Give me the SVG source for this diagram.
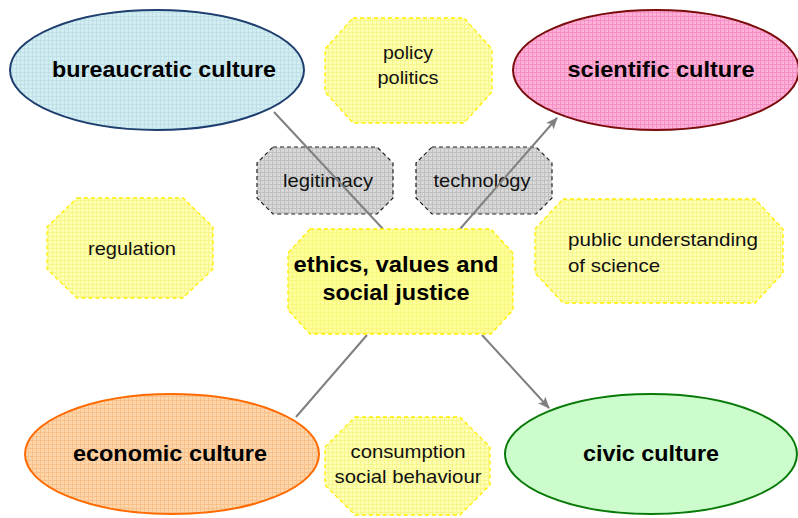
<svg xmlns="http://www.w3.org/2000/svg" width="798" height="518" viewBox="0 0 798 518">
<defs>
<pattern id="pBlue" width="4" height="4" patternUnits="userSpaceOnUse"><rect width="4" height="4" fill="#d3eef2"/><path d="M0 0.5H4M0.5 0V4" stroke="#bfe0e6" stroke-width="1"/></pattern>
<pattern id="pPink" width="4" height="4" patternUnits="userSpaceOnUse"><rect width="4" height="4" fill="#ffb0d8"/><path d="M0 0.5H4M0.5 0V4" stroke="#f590c4" stroke-width="1"/></pattern>
<pattern id="pOrange" width="4" height="4" patternUnits="userSpaceOnUse"><rect width="4" height="4" fill="#ffd6aa"/><path d="M0 0.5H4M0.5 0V4" stroke="#f8c08a" stroke-width="1"/></pattern>
<pattern id="pYellow" width="4" height="4" patternUnits="userSpaceOnUse"><rect width="4" height="4" fill="#ffffb4"/><path d="M0 0.5H4M0.5 0V4" stroke="#f6f68a" stroke-width="1"/></pattern>
<pattern id="pCentral" width="4" height="4" patternUnits="userSpaceOnUse"><rect width="4" height="4" fill="#ffff99"/><path d="M0 0.5H4M0.5 0V4" stroke="#f8f880" stroke-width="1"/></pattern>
<pattern id="pGray" width="4" height="4" patternUnits="userSpaceOnUse"><rect width="4" height="4" fill="#d8d8d8"/><path d="M0 0.5H4M0.5 0V4" stroke="#c0c0c0" stroke-width="1"/></pattern>
<marker id="arr" viewBox="0 0 12 10" refX="11" refY="5" markerWidth="12" markerHeight="10" markerUnits="userSpaceOnUse" orient="auto">
<path d="M0,0 L12,5 L0,10 L3,5 Z" fill="#808080"/>
</marker>
</defs>
<style>
.big{font-family:"Liberation Sans",Arial,sans-serif;font-weight:bold;font-size:22px;fill:#000;text-anchor:middle}
.sm{font-family:"Liberation Sans",Arial,sans-serif;font-size:18.5px;fill:#111;text-anchor:middle}
.oct{fill:url(#pYellow);stroke:#ffee00;stroke-width:1.3;stroke-dasharray:4 3}
.gray{fill:url(#pGray);stroke:#222;stroke-width:1.2;stroke-dasharray:4 3}
.conn{stroke:#808080;stroke-width:2;fill:none}
</style>
<rect width="798" height="518" fill="#fff"/>

<g id="bureaucratic">
<ellipse cx="157" cy="70" rx="147" ry="60" fill="url(#pBlue)" stroke="#1d3e6e" stroke-width="2"/>
<text class="big" x="164" y="77" textLength="224" lengthAdjust="spacingAndGlyphs">bureaucratic culture</text>
</g>
<g id="scientific">
<ellipse cx="656" cy="70" rx="143" ry="60" fill="url(#pPink)" stroke="#7a0c0c" stroke-width="2"/>
<text class="big" x="661" y="77" textLength="187" lengthAdjust="spacingAndGlyphs">scientific culture</text>
</g>
<g id="economic">
<ellipse cx="172" cy="454" rx="147" ry="60" fill="url(#pOrange)" stroke="#ff6a00" stroke-width="2"/>
<text class="big" x="170" y="461" textLength="194" lengthAdjust="spacingAndGlyphs">economic culture</text>
</g>
<g id="civic">
<ellipse cx="651" cy="454" rx="146" ry="60" fill="#ccfccc" stroke="#087a08" stroke-width="2"/>
<text class="big" x="651" y="461" textLength="136" lengthAdjust="spacingAndGlyphs">civic culture</text>
</g>

<g id="policy">
<polygon class="oct" points="353,18 464,18 492,49 492,92 464,123 353,123 325,92 325,49"/>
<text class="sm" x="408" y="59" textLength="50" lengthAdjust="spacingAndGlyphs">policy</text>
<text class="sm" x="408" y="84" textLength="61" lengthAdjust="spacingAndGlyphs">politics</text>
</g>
<g id="regulation">
<polygon class="oct" points="77,198 183,198 213,227 213,269 183,298 77,298 47,269 47,227"/>
<text class="sm" x="132" y="255" textLength="88" lengthAdjust="spacingAndGlyphs">regulation</text>
</g>
<g id="public">
<polygon class="oct" points="563,199 755,199 783,229 783,273 755,303 563,303 535,273 535,229"/>
<text class="sm" x="568" y="246" style="text-anchor:start" textLength="190" lengthAdjust="spacingAndGlyphs">public understanding</text>
<text class="sm" x="568" y="272" style="text-anchor:start" textLength="92" lengthAdjust="spacingAndGlyphs">of science</text>
</g>
<g id="consumption">
<polygon class="oct" points="355,417 460,417 490,447 490,485 460,515 355,515 325,485 325,447"/>
<text class="sm" x="408" y="458" textLength="115" lengthAdjust="spacingAndGlyphs">consumption</text>
<text class="sm" x="408" y="483" textLength="147" lengthAdjust="spacingAndGlyphs">social behaviour</text>
</g>
<g id="legitimacy">
<polygon class="gray" points="273,147 377,147 393,163 393,198 377,214 273,214 257,198 257,163"/>
<text class="sm" x="328" y="187" textLength="90" lengthAdjust="spacingAndGlyphs">legitimacy</text>
</g>
<g id="technology">
<polygon class="gray" points="432,147 536,147 552,163 552,198 536,214 432,214 416,198 416,163"/>
<text class="sm" x="482" y="187" textLength="97" lengthAdjust="spacingAndGlyphs">technology</text>
</g>

<g id="connectors">
<line class="conn" x1="274" y1="112" x2="383" y2="229"/>
<line class="conn" x1="460" y1="229" x2="557" y2="118" marker-end="url(#arr)"/>
<line class="conn" x1="367" y1="335" x2="296" y2="417"/>
<line class="conn" x1="482" y1="335" x2="549" y2="408" marker-end="url(#arr)"/>
</g>

<g id="ethics">
<polygon fill="url(#pCentral)" stroke="#ffee00" stroke-width="1.3" stroke-dasharray="4 3" points="310,229 491,229 513,253 513,310 491,334 310,334 288,310 288,253"/>
<text class="big" x="396" y="272" textLength="205" lengthAdjust="spacingAndGlyphs">ethics, values and</text>
<text class="big" x="396" y="300" textLength="147" lengthAdjust="spacingAndGlyphs">social justice</text>
</g>
</svg>
